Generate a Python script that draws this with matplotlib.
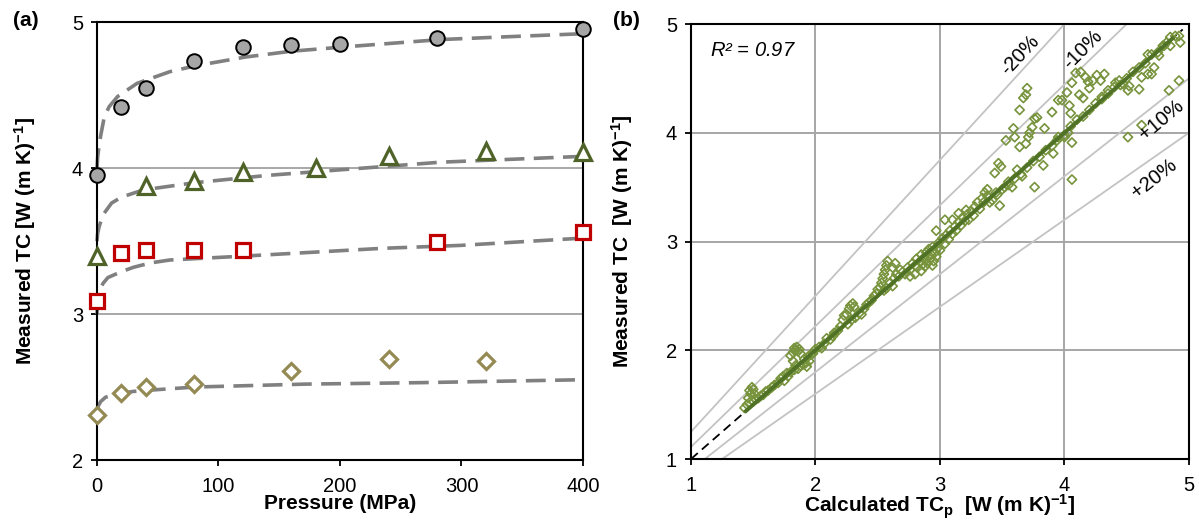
import matplotlib
matplotlib.use("Agg")
import matplotlib.pyplot as plt
import numpy as np

plt.rcParams['font.family'] = ['Liberation Sans', 'DejaVu Sans']
plt.rcParams['mathtext.fontset'] = 'custom'
plt.rcParams['mathtext.rm'] = 'Liberation Sans'
plt.rcParams['mathtext.it'] = 'Liberation Sans:italic'
plt.rcParams['mathtext.bf'] = 'Liberation Sans:bold'

# ---------------- (a) measured TC versus pressure ----------------
p_circle = [0, 20, 40, 80, 120, 160, 200, 280, 400]
tc_circle = [3.95, 4.42, 4.55, 4.73, 4.83, 4.84, 4.85, 4.89, 4.95]
p_triangle = [0, 40, 80, 120, 180, 240, 320, 400]
tc_triangle = [3.40, 3.88, 3.91, 3.97, 4.00, 4.08, 4.12, 4.11]
p_square = [0, 20, 40, 80, 120, 280, 400]
tc_square = [3.09, 3.42, 3.44, 3.44, 3.44, 3.49, 3.56]
p_diamond = [0, 20, 40, 80, 160, 240, 320]
tc_diamond = [2.31, 2.46, 2.50, 2.52, 2.61, 2.69, 2.68]

# fitted pressure curves
fit_p_circle = [0, 0.5, 1.5, 3, 6, 10, 17, 33, 60, 81, 122, 160, 204, 283, 340, 400]
fit_tc_circle = [4.00, 4.07, 4.14, 4.22, 4.35, 4.42, 4.49, 4.58, 4.66, 4.70, 4.76, 4.80, 4.83, 4.88, 4.90, 4.92]
fit_p_triangle = [0, 0.5, 1.8, 5, 12, 20, 38, 81, 141, 204, 283, 400]
fit_tc_triangle = [3.50, 3.55, 3.60, 3.68, 3.76, 3.80, 3.85, 3.90, 3.95, 3.99, 4.04, 4.08]
fit_p_square = [0, 0.3, 1, 2.5, 5, 9, 20, 30, 44, 60, 128, 235, 299, 400]
fit_tc_square = [3.00, 3.06, 3.12, 3.17, 3.21, 3.25, 3.29, 3.32, 3.35, 3.37, 3.40, 3.45, 3.47, 3.52]
fit_p_diamond = [0, 1, 3, 7, 15, 30, 46, 81, 172, 267, 400]
fit_tc_diamond = [2.33, 2.37, 2.40, 2.43, 2.45, 2.47, 2.48, 2.50, 2.52, 2.53, 2.55]

pressure_ticks = [0, 100, 200, 300, 400]
tc_ticks_a = [2, 3, 4, 5]

# ---------------- (b) measured versus calculated TC ----------------
calc_tc = [
    1.43, 1.45, 1.47, 1.46, 1.48, 1.47, 1.49, 1.50, 1.51, 1.52, 1.50, 1.54, 1.56, 1.58, 1.60,
    1.62, 1.65, 1.67, 1.70, 1.72, 1.74, 1.75, 1.77, 1.78, 1.80,
    1.80, 1.82, 1.83, 1.84, 1.85, 1.86, 1.87, 1.88, 1.82, 1.84, 1.83,
    1.86, 1.88, 1.90, 1.92, 1.91, 1.93, 1.95, 1.94, 1.96, 1.98, 2.00,
    2.03, 2.05, 2.07, 2.09, 2.12, 2.14, 2.15, 2.18, 2.20, 2.22, 2.23,
    2.25, 2.27, 2.28, 2.30, 2.31, 2.26, 2.29, 2.32, 2.35, 2.37, 2.39,
    2.41, 2.43, 2.45, 2.47, 2.49, 2.50, 2.52, 2.53, 2.54, 2.55, 2.56, 2.57,
    2.58, 2.55, 2.57, 2.60, 2.62, 2.63, 2.65, 2.67, 2.68, 2.70, 2.62, 2.64,
    2.72, 2.74, 2.76, 2.78, 2.80, 2.81, 2.82, 2.84, 2.85, 2.86,
    2.87, 2.88, 2.89, 2.90, 2.90, 2.91, 2.92, 2.93, 2.94, 2.95,
    2.96, 2.97, 2.98, 2.99, 3.00, 2.85, 2.80, 2.88, 2.94, 2.76,
    3.02, 3.04, 3.05, 3.07, 3.08, 3.10, 3.12, 3.13, 3.15, 3.17, 3.18, 3.20, 3.22,
    3.23, 3.25, 3.27, 3.10, 3.15, 3.28, 3.30, 3.32, 3.34, 3.36, 3.38, 3.35,
    2.97, 3.04, 3.21, 3.44, 3.47, 3.49, 3.53, 3.59, 3.60, 3.64,
    3.67, 3.70, 3.69, 3.64, 3.69, 3.71, 3.72, 3.74, 3.76, 3.78,
    3.84, 3.90, 3.95, 3.98, 4.02, 4.04, 4.05, 4.00, 4.03, 4.06,
    4.06, 4.09, 4.13, 4.12, 4.15, 4.17, 4.19, 4.20, 4.23, 4.26,
    4.29, 4.30, 4.32, 4.35, 4.41, 4.44, 4.47, 4.51, 4.52, 4.60,
    4.62, 4.67, 4.70, 4.51, 4.62, 4.72, 4.76, 4.67, 4.79, 4.82,
    4.85, 4.89, 4.92, 4.93, 4.85, 4.84, 4.92, 4.06, 3.48, 3.76,
    3.83, 3.91, 3.94, 3.39, 3.55, 3.58, 3.62, 3.66,
    3.45, 3.50, 3.55, 3.60, 3.65, 3.70, 3.75, 3.80, 3.85, 3.90,
    3.95, 4.00, 4.05, 4.10, 4.15, 4.20, 4.25, 4.30, 4.35, 4.40,
    4.45, 4.50, 4.55, 4.60, 4.65, 4.70, 4.75, 4.80, 3.38, 3.42,
    3.46, 3.52, 3.40,
]
meas_tc = [
    1.47, 1.50, 1.52, 1.56, 1.60, 1.63, 1.66, 1.64, 1.60, 1.55, 1.53, 1.56, 1.58, 1.59, 1.62,
    1.63, 1.66, 1.68, 1.70, 1.74, 1.76, 1.72, 1.79, 1.76, 1.80,
    1.95, 1.98, 2.02, 2.00, 2.03, 1.99, 2.01, 1.97, 1.90, 1.86, 1.82,
    1.83, 1.86, 1.87, 1.88, 1.92, 1.85, 1.90, 1.94, 1.96, 1.97, 2.01,
    2.03, 2.02, 2.06, 2.11, 2.10, 2.13, 2.16, 2.18, 2.22, 2.28, 2.32,
    2.33, 2.38, 2.41, 2.43, 2.40, 2.24, 2.28, 2.30, 2.34, 2.33, 2.38,
    2.42, 2.44, 2.46, 2.50, 2.52, 2.56, 2.58, 2.62, 2.66, 2.70, 2.74, 2.78,
    2.82, 2.55, 2.57, 2.62, 2.59, 2.66, 2.70, 2.68, 2.74, 2.72, 2.76, 2.80,
    2.70, 2.76, 2.74, 2.80, 2.78, 2.84, 2.76, 2.82, 2.88, 2.79,
    2.85, 2.83, 2.90, 2.80, 2.86, 2.93, 2.84, 2.88, 2.95, 2.82,
    2.90, 2.86, 2.94, 2.99, 2.92, 2.73, 2.70, 2.77, 2.78, 2.68,
    3.03, 2.98, 3.06, 3.02, 3.10, 3.07, 3.14, 3.10, 3.18, 3.15, 3.22, 3.19, 3.25,
    3.20, 3.28, 3.24, 3.20, 3.26, 3.32, 3.36, 3.30, 3.40, 3.45, 3.48, 3.36,
    3.10, 3.20, 3.29, 3.63, 3.72, 3.69, 3.93, 4.04, 3.96, 4.21,
    4.32, 4.41, 4.35, 3.87, 3.90, 3.96, 4.00, 4.05, 4.13, 4.14,
    4.04, 4.19, 4.30, 4.30, 4.37, 4.25, 4.18, 3.96, 4.00, 3.91,
    4.46, 4.55, 4.56, 4.35, 4.32, 4.51, 4.47, 4.41, 4.48, 4.53,
    4.48, 4.33, 4.54, 4.39, 4.46, 4.48, 4.45, 4.39, 4.43, 4.40,
    4.51, 4.54, 4.54, 3.96, 4.07, 4.60, 4.71, 4.72, 4.80, 4.83,
    4.88, 4.89, 4.89, 4.83, 4.80, 4.39, 4.48, 3.57, 3.33, 3.50,
    3.70, 3.81, 3.93, 3.41, 3.55, 3.50, 3.66, 3.60,
    3.45, 3.48, 3.52, 3.58, 3.62, 3.68, 3.74, 3.78, 3.84, 3.88,
    3.96, 3.98, 4.06, 4.12, 4.15, 4.21, 4.27, 4.31, 4.36, 4.42,
    4.44, 4.50, 4.56, 4.60, 4.64, 4.72, 4.74, 4.80, 3.42, 3.38,
    3.43, 3.50, 3.36,
]
trend_range = [1.43, 4.88]
unity_range = [1.0, 4.95]
deviation_slopes = [1 / 0.8, 1 / 0.9, 0.9, 0.8]
deviation_labels = ['-20%', '-10%', '+10%', '+20%']
deviation_label_pos = [(3.64, 4.71), (4.15, 4.77), (4.78, 4.12), (4.72, 3.58)]
deviation_label_rot = [47, 45, 40, 38]
tc_ticks_b = [1, 2, 3, 4, 5]
r2_text = '$\\mathit{R}$² = 0.97'

# ---------------- figure ----------------
fig = plt.figure(figsize=(11.99, 5.27), dpi=100)
ax_a = fig.add_axes([0.0809, 0.1271, 0.4053, 0.8311])
ax_b = fig.add_axes([0.5763, 0.1290, 0.4153, 0.8254])

CURVE = '#808080'
dash = (0, (5.5, 2.6))
LABEL_SIZE = 15
TICK_SIZE = 14.5

for fx, fy in [(fit_p_circle, fit_tc_circle), (fit_p_triangle, fit_tc_triangle),
               (fit_p_square, fit_tc_square), (fit_p_diamond, fit_tc_diamond)]:
    ax_a.plot(fx, fy, color=CURVE, lw=2.6, ls=dash, zorder=2, clip_on=False)

ax_a.plot(p_circle, tc_circle, ls='none', marker='o', ms=10.5, mfc='#a6a6a6',
          mec='black', mew=1.4, zorder=4, clip_on=False)
ax_a.plot(p_triangle, tc_triangle, ls='none', marker='^', ms=11.5, mfc='white',
          mec='#4f6228', mew=2.3, zorder=4, clip_on=False)
ax_a.plot(p_square, tc_square, ls='none', marker='s', ms=9.5, mfc='white',
          mec='#c00000', mew=2.3, zorder=4, clip_on=False)
ax_a.plot(p_diamond, tc_diamond, ls='none', marker='D', ms=8.5, mfc='white',
          mec='#948a54', mew=2.3, zorder=4, clip_on=False)

ax_a.set_xlim(0, 400)
ax_a.set_ylim(2, 5)
ax_a.set_xticks(pressure_ticks)
ax_a.set_yticks(tc_ticks_a)
for yv in [3, 4]:
    ax_a.axhline(yv, color='#a0a0a0', lw=1.3, zorder=1)

ax_a.set_xlabel('Pressure (MPa)', fontsize=LABEL_SIZE, fontweight='bold')
ax_a.set_ylabel('Measured TC [W (m K)$^{\\mathbf{-1}}$]', fontsize=LABEL_SIZE, fontweight='bold')
ax_a.xaxis.set_label_coords(0.5, -0.078)
ax_a.yaxis.set_label_coords(-0.122, 0.5)

# panel (b)
for yv in tc_ticks_b[1:-1]:
    ax_b.axhline(yv, color='#a6a6a6', lw=1.4, zorder=1)
    ax_b.axvline(yv, color='#a6a6a6', lw=1.4, zorder=1)

xs = np.array([1.0, 5.0])
for slope in deviation_slopes:
    ax_b.plot(xs, slope * xs, color='#c3c3c3', lw=1.3, zorder=1.5)

ax_b.plot(unity_range, unity_range, color='black', lw=1.3, ls=(0, (5, 3)), zorder=2)
ax_b.scatter(calc_tc, meas_tc, marker='D', s=22, facecolors='none',
             edgecolors='#77933c', linewidths=1.2, zorder=3)
ax_b.plot(trend_range, trend_range, color='#4f7226', lw=2.8, zorder=4,
          solid_capstyle='butt')

for txt, (tx, ty), rot in zip(deviation_labels, deviation_label_pos, deviation_label_rot):
    ax_b.text(tx, ty, txt, fontsize=14.5, rotation=rot, ha='center', va='center', zorder=5)

ax_b.text(1.15, 4.76, r2_text, fontsize=14.5, style='italic', ha='left', va='center')

ax_b.set_xlim(1, 5)
ax_b.set_ylim(1, 5)
ax_b.set_xticks(tc_ticks_b)
ax_b.set_yticks(tc_ticks_b)
ax_b.set_xlabel('Calculated TC$_{\\mathbf{p}}$  [W (m K)$^{\\mathbf{-1}}$]', fontsize=LABEL_SIZE, fontweight='bold')
ax_b.set_ylabel('Measured TC  [W (m K)$^{\\mathbf{-1}}$]', fontsize=LABEL_SIZE, fontweight='bold')
ax_b.xaxis.set_label_coords(0.5, -0.078)
ax_b.yaxis.set_label_coords(-0.112, 0.5)

for ax in (ax_a, ax_b):
    for sp in ax.spines.values():
        sp.set_color('black')
        sp.set_linewidth(1.5)
    ax.tick_params(direction='out', length=4, width=1.3, labelsize=TICK_SIZE, pad=6)
    ax.tick_params(axis='x', pad=8)

fig.text(0.011, 0.962, '(a)', fontsize=15, fontweight='bold', va='center')
fig.text(0.511, 0.962, '(b)', fontsize=15, fontweight='bold', va='center')

fig.savefig('out.png', dpi=100)
